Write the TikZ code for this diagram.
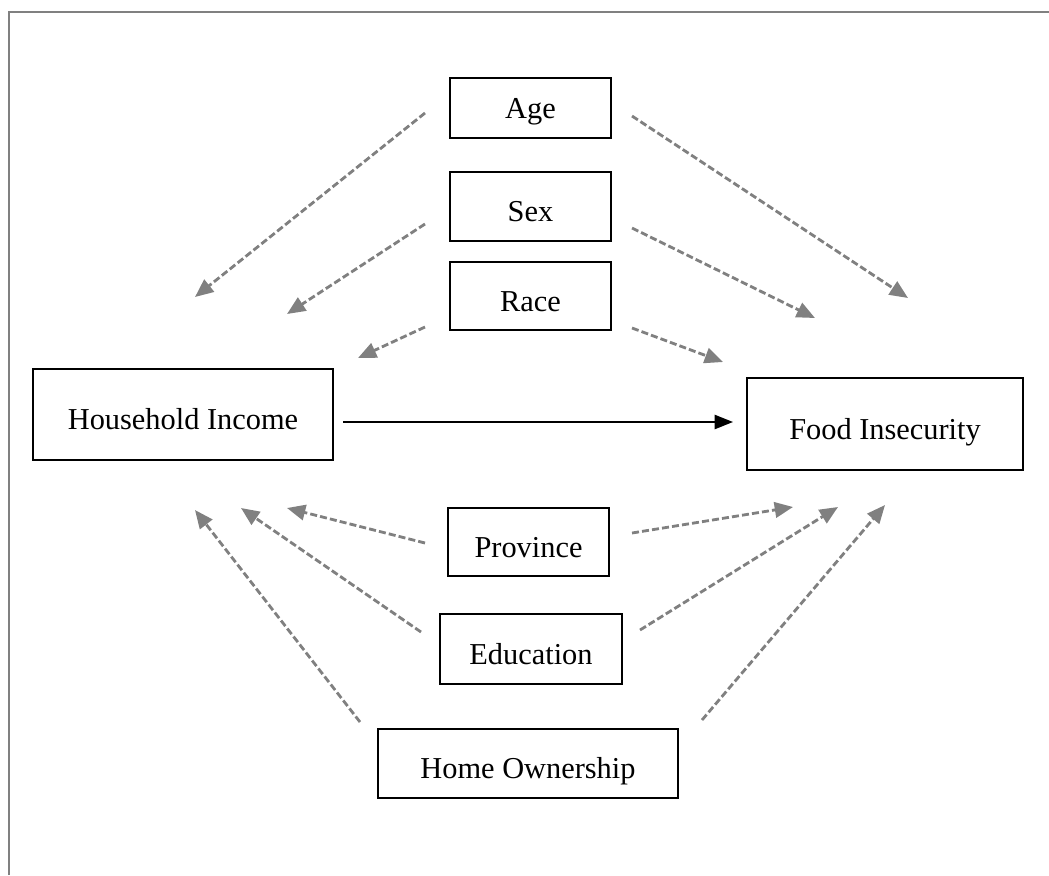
\documentclass[tikz,border=0pt]{standalone}
\usepackage{fontspec}
\setmainfont{Liberation Serif}
\usetikzlibrary{arrows.meta}
\definecolor{dashgray}{RGB}{128,128,128}
\begin{document}
\begin{tikzpicture}[x=0.025cm,y=-0.025cm,font=\fontsize{21.6}{26}\selectfont,
  box/.style={draw,line width=0.9pt,inner sep=0pt,text height=24pt,text depth=2pt},
  conf/.style={dashgray,line width=2pt,dash pattern=on 5pt off 2.2pt,-{Triangle[length=13pt,width=11pt]}},
  main/.style={black,line width=1.5pt,-{Triangle[length=13pt,width=10pt]}}]
\useasboundingbox (0,0) rectangle (1049,875);
\draw[dashgray,line width=1.3pt] (9,875) -- (9,12) -- (1049,12);
\node[box,text height=17pt,minimum width=4.03cm,minimum height=1.5cm] (age) at (530.5,108) {Age};
\node[box,minimum width=4.03cm,minimum height=1.73cm] (sex) at (530.5,206.5) {Sex};
\node[box,minimum width=4.03cm,minimum height=1.7cm] (race) at (530.5,296) {Race};
\node[box,minimum width=7.5cm,minimum height=2.28cm] (income) at (183,414.5) {Household Income};
\node[box,minimum width=6.9cm,minimum height=2.3cm] (food) at (885,424) {Food Insecurity};
\node[box,minimum width=4.03cm,minimum height=1.7cm] (prov) at (528.5,542) {Province};
\node[box,minimum width=4.55cm,minimum height=1.75cm] (edu) at (531,649) {Education};
\node[box,minimum width=7.5cm,minimum height=1.73cm] (home) at (528,763.5) {Home Ownership};
% free ends of the confounder arrows
\coordinate (age-l) at (425,113); \coordinate (age-r) at (632,116);
\coordinate (sex-l) at (425,224); \coordinate (sex-r) at (632,228);
\coordinate (race-l) at (425,327); \coordinate (race-r) at (632,328);
\coordinate (prov-l) at (425,543); \coordinate (prov-r) at (632,533);
\coordinate (edu-l) at (421,632); \coordinate (edu-r) at (640,630);
\coordinate (home-l) at (360,722); \coordinate (home-r) at (702,720);
\coordinate (inc-a) at (195,297); \coordinate (inc-s) at (287,314); \coordinate (inc-r) at (358,358);
\coordinate (inc-p) at (287,508); \coordinate (inc-e) at (241,508); \coordinate (inc-h) at (195,510);
\coordinate (fi-a) at (908,298); \coordinate (fi-s) at (815,318); \coordinate (fi-r) at (723,362);
\coordinate (fi-p) at (793,507); \coordinate (fi-e) at (838,507); \coordinate (fi-h) at (885,505);
\coordinate (inc-out) at (343,422); \coordinate (fi-in) at (733,422);
\draw[main] (inc-out) -- (fi-in);
\draw[conf] (age-l) -- (inc-a); \draw[conf] (age-r) -- (fi-a);
\draw[conf] (sex-l) -- (inc-s); \draw[conf] (sex-r) -- (fi-s);
\draw[conf] (race-l) -- (inc-r); \draw[conf] (race-r) -- (fi-r);
\draw[conf] (prov-l) -- (inc-p); \draw[conf] (prov-r) -- (fi-p);
\draw[conf] (edu-l) -- (inc-e); \draw[conf] (edu-r) -- (fi-e);
\draw[conf] (home-l) -- (inc-h); \draw[conf] (home-r) -- (fi-h);
\end{tikzpicture}
\end{document}
